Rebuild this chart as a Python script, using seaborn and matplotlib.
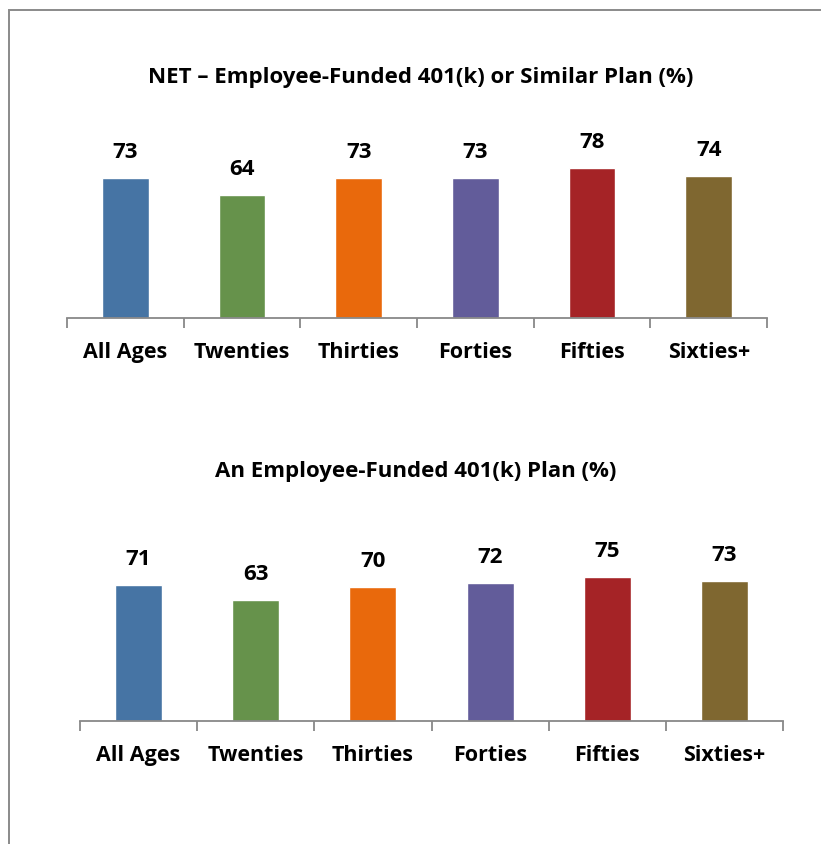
import numpy as np
import pandas as pd
import seaborn as sns
import matplotlib.pyplot as plt
from matplotlib.patches import Rectangle

# Data
categories = ["All Ages", "Twenties", "Thirties", "Forties", "Fifties", "Sixties+"]
net_values = [73, 64, 73, 73, 78, 74]
plan_values = [71, 63, 70, 72, 75, 73]
colors = ["#4674A4", "#66924B", "#E9690C", "#625C9A", "#A52326", "#7F6730"]
titles = ["NET \u2013 Employee-Funded 401(k) or Similar Plan (%)",
          "An Employee-Funded 401(k) Plan (%)"]

sns.set_theme(style="white")
plt.rcParams['font.family'] = ['Open Sans', 'DejaVu Sans']

W, H = 821, 844
fig = plt.figure(figsize=(W / 100, H / 100), dpi=100)

# outer frame (cut off at right and bottom like the source)
fig.patches.append(Rectangle((8.5 / W, -0.1), 1.2, 1 - 9.5 / H + 0.1, transform=fig.transFigure,
                             fill=False, edgecolor="#8a8a8a", linewidth=1.4))


def px_axes(left, right, base, ppu):
    # axes placed in pixel coords, y range 0-100
    height = ppu * 100
    return fig.add_axes([left / W, 1 - base / H, (right - left) / W, height / H])


panels = [
    (net_values, 67, 767, 318, 1.918, titles[0], 421, 78),
    (plan_values, 80, 783, 721, 1.915, titles[1], 416, 472),
]

for values, left, right, base, ppu, title, tx, ty in panels:
    ax = px_axes(left, right, base, ppu)
    df = pd.DataFrame({"category": categories, "value": values})
    sns.barplot(data=df, x="category", y="value", hue="category", palette=colors,
                width=0.4, saturation=1, legend=False, ax=ax)
    ax.set_xlim(-0.5, 5.5)
    ax.set_ylim(0, 100)
    for p, v in zip(ax.patches, values):
        ax.text(p.get_x() + p.get_width() / 2, v + 13.5, f"{v}", ha="center", va="center",
                fontsize=16, fontweight="bold", color="black")
    for s in ["top", "right", "left"]:
        ax.spines[s].set_visible(False)
    ax.spines["bottom"].set_color("#888888")
    ax.spines["bottom"].set_linewidth(1.3)
    ax.set_yticks([])
    ax.set_xticks(np.arange(6))
    ax.set_xticklabels(categories, fontsize=15.5, fontweight="bold", color="black")
    ax.set_xticks(np.arange(-0.5, 6, 1), minor=True)
    ax.tick_params(axis="x", which="major", length=0, pad=17)
    ax.tick_params(axis="x", which="minor", length=7, width=1.3, color="#888888", bottom=True)
    ax.set_xlabel("")
    ax.set_ylabel("")
    fig.text(tx / W, 1 - ty / H, title, ha="center", va="center",
             fontsize=16, fontweight="bold", color="black")

fig.savefig("out.png", dpi=100, facecolor="white")
